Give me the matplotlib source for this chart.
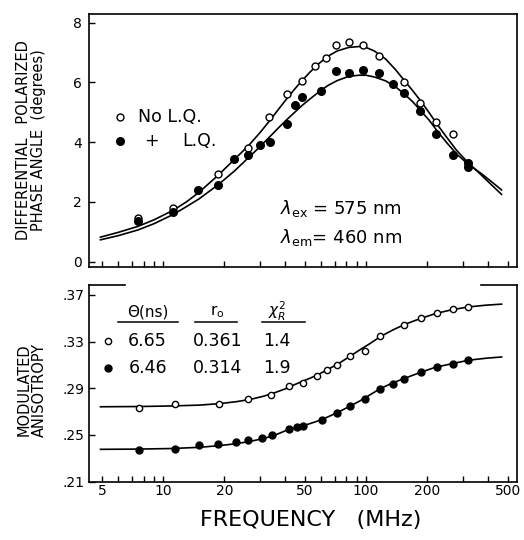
import matplotlib
matplotlib.use('Agg')
import matplotlib.pyplot as plt
from matplotlib.ticker import NullLocator

# upper panel: differential polarized phase angle (degrees)
freq_ang_open = [7.5, 11.2, 18.6, 26.1, 33.3, 40.6, 48.2, 56.1, 63.5, 71.2,
                 82.4, 97.0, 115.9, 153.7, 184.5, 221.4, 267]
ang_open = [1.45, 1.78, 2.93, 3.79, 4.83, 5.61, 6.03, 6.55, 6.82, 7.25,
            7.34, 7.25, 6.89, 6.00, 5.30, 4.66, 4.27]
freq_ang_fill = [7.5, 11.2, 14.9, 18.7, 22.4, 26.1, 30.0, 33.7, 40.9, 44.7,
                 48.2, 59.8, 71.2, 82.4, 97.0, 115.9, 135.3, 153.7, 184.5,
                 221.4, 267, 319, 319]
ang_fill = [1.35, 1.67, 2.40, 2.56, 3.42, 3.57, 3.90, 4.01, 4.61, 5.24,
            5.50, 5.71, 6.38, 6.32, 6.41, 6.30, 5.93, 5.66, 5.04,
            4.27, 3.57, 3.31, 3.16]

fit_freq = [4.9, 6, 7.5, 9, 11.2, 13, 15, 18.7, 22.4, 26.3, 30, 33.5, 37,
            40.6, 44.5, 48.2, 53, 59, 65, 72, 82, 92, 100, 110, 125, 140,
            155, 170, 185, 205, 225, 250, 280, 320, 370, 420, 466]
fit_ang_open = [0.82, 0.98, 1.18, 1.40, 1.72, 2.00, 2.32, 2.90, 3.42, 3.88,
                4.32, 4.72, 5.10, 5.45, 5.78, 6.05, 6.35, 6.65, 6.88, 7.05,
                7.17, 7.20, 7.17, 7.05, 6.78, 6.42, 6.05, 5.72, 5.40, 4.98,
                4.58, 4.16, 3.72, 3.30, 2.90, 2.54, 2.25]
fit_ang_fill = [0.73, 0.87, 1.06, 1.27, 1.58, 1.84, 2.10, 2.58, 3.03, 3.48,
                3.85, 4.18, 4.48, 4.75, 5.00, 5.22, 5.45, 5.70, 5.90, 6.06,
                6.20, 6.24, 6.24, 6.18, 6.05, 5.85, 5.60, 5.35, 5.07, 4.73,
                4.36, 3.98, 3.60, 3.25, 2.95, 2.65, 2.40]

# lower panel: modulated anisotropy
freq_r_open = [7.55, 11.4, 18.9, 26.3, 33.9, 41.8, 49.1, 57.2, 64.5, 72.2,
               83.4, 98.9, 117.2, 154.5, 186.7, 223, 267, 319]
r_open = [0.2732, 0.2767, 0.2767, 0.2809, 0.2846, 0.2917, 0.2946, 0.3002,
          0.3060, 0.3102, 0.3173, 0.3222, 0.3344, 0.3444, 0.3501, 0.3544,
          0.3578, 0.3595]
freq_r_fill = [7.6, 11.4, 15.0, 18.7, 22.8, 26.3, 30.6, 34.3, 41.8, 45.6,
               49.1, 60.5, 72.2, 83.4, 98.9, 117.2, 136.5, 154.5, 186.7,
               223, 267, 319]
r_fill = [0.2368, 0.2382, 0.2410, 0.2425, 0.2442, 0.2453, 0.2470, 0.2498,
          0.2547, 0.2567, 0.2575, 0.2627, 0.2690, 0.2746, 0.2809, 0.2897,
          0.2940, 0.2980, 0.3036, 0.3083, 0.3108, 0.3145]

fit_freq_r = [4.9, 7.5, 11, 15, 19, 23, 27, 31, 35, 40, 45, 50, 57, 65, 73,
              83, 93, 105, 117, 135, 155, 185, 220, 265, 320, 390, 466]
fit_r_open = [0.2741, 0.2743, 0.2748, 0.2755, 0.2768, 0.2785, 0.2805,
              0.2830, 0.2858, 0.2895, 0.2935, 0.2968, 0.3010, 0.3062,
              0.3110, 0.3172, 0.3228, 0.3285, 0.3340, 0.3398, 0.3447,
              0.3497, 0.3540, 0.3573, 0.3597, 0.3612, 0.3621]
fit_r_fill = [0.2376, 0.2378, 0.2383, 0.2393, 0.2408, 0.2425, 0.2445,
              0.2468, 0.2493, 0.2535, 0.2560, 0.2583, 0.2615, 0.2655,
              0.2695, 0.2745, 0.2790, 0.2845, 0.2895, 0.2945, 0.2985,
              0.3035, 0.3080, 0.3110, 0.3140, 0.3157, 0.3168]

freq_ticks = [5, 6, 7, 8, 9, 10, 20, 30, 40, 50, 60, 70, 80, 90, 100,
              200, 300, 400, 500]
freq_labels = ['5', '', '', '', '', '10', '20', '', '', '50', '', '', '', '',
               '100', '200', '', '', '500']
ang_ticks = [0, 2, 4, 6, 8]
r_ticks = [0.21, 0.25, 0.29, 0.33, 0.37]
r_labels = ['.21', '.25', '.29', '.33', '.37']

table_head = ['\u0398(ns)', r'r$_{\rm o}$', r'$\chi^2_R$']
table_open = ['6.65', '0.361', '1.4']
table_fill = ['6.46', '0.314', '1.9']

fig = plt.figure(figsize=(5.24, 5.40), dpi=100, facecolor='w')
ax1 = fig.add_axes([0.1698, 0.5061, 0.8168, 0.468])
ax2 = fig.add_axes([0.1698, 0.1083, 0.8168, 0.3639])

open_kw = dict(ls='none', marker='o', ms=5, mfc='white', mec='black', mew=1.0)
fill_kw = dict(ls='none', marker='o', ms=5.5, mfc='black', mec='black')

ax1.plot(fit_freq, fit_ang_open, color='black', lw=1.2)
ax1.plot(fit_freq, fit_ang_fill, color='black', lw=1.2)
ax1.plot(freq_ang_open, ang_open, **open_kw)
ax1.plot(freq_ang_fill, ang_fill, **fill_kw)

ax2.plot(fit_freq_r, fit_r_open, color='black', lw=1.2)
ax2.plot(fit_freq_r, fit_r_fill, color='black', lw=1.2)
ax2.plot(freq_r_open, r_open, **dict(open_kw, ms=4.5))
ax2.plot(freq_r_fill, r_fill, **dict(fill_kw, ms=5))

for ax in (ax1, ax2):
    ax.set_xscale('log')
    ax.set_xlim(4.3, 555)
    ax.set_xticks(freq_ticks)
    ax.set_xticklabels(freq_labels)
    ax.xaxis.set_minor_locator(NullLocator())
    ax.tick_params(which='both', direction='in', length=4, width=1,
                   labelsize=10, top=False, right=False)
    for s in ax.spines.values():
        s.set_linewidth(1.2)

ax1.set_ylim(-0.17, 8.29)
ax1.set_yticks(ang_ticks)
ax1.tick_params(axis='x', labelbottom=False)
ax1.tick_params(axis='y', pad=5)

ax2.set_ylim(0.2107, 0.3785)
ax2.set_yticks(r_ticks)
ax2.set_yticklabels(r_labels)
ax2.tick_params(axis='x', pad=2)
ax2.tick_params(axis='y', pad=3)
# broken top frame on the lower panel
ax2.spines['top'].set_visible(False)
ax2.plot([0, 0.084], [1, 1], transform=ax2.transAxes, color='black',
         lw=1.2, clip_on=False)
ax2.plot([0.917, 1], [1, 1], transform=ax2.transAxes, color='black',
         lw=1.2, clip_on=False)

# upper panel key and wavelengths
ax1.plot([0.072], [0.592], transform=ax1.transAxes, **open_kw)
ax1.plot([0.072], [0.497], transform=ax1.transAxes, **fill_kw)
ax1.text(0.114, 0.592, 'No L.Q.', transform=ax1.transAxes, fontsize=12.5,
         va='center', ha='left')
ax1.text(0.147, 0.497, '+', transform=ax1.transAxes, fontsize=12.5,
         va='center', ha='center')
ax1.text(0.217, 0.497, 'L.Q.', transform=ax1.transAxes, fontsize=12.5,
         va='center', ha='left')
ax1.text(0.589, 0.232, r'$\lambda_{\rm ex}$ = 575 nm', transform=ax1.transAxes,
         fontsize=13, va='center', ha='center')
ax1.text(0.589, 0.114, r'$\lambda_{\rm em}$= 460 nm', transform=ax1.transAxes,
         fontsize=13, va='center', ha='center')

# lower panel table
col_x = [0.137, 0.300, 0.440]
rule_x = [(0.068, 0.208), (0.248, 0.346), (0.404, 0.505)]
for x, (x0, x1), h in zip(col_x, rule_x, table_head):
    ax2.text(x, 0.864, h, transform=ax2.transAxes, fontsize=11,
             ha='center', va='center')
    ax2.plot([x0, x1], [0.81, 0.81], transform=ax2.transAxes,
             color='black', lw=1.1)
ax2.plot([0.044], [0.715], transform=ax2.transAxes, **dict(open_kw, ms=4.5))
ax2.plot([0.044], [0.576], transform=ax2.transAxes, **dict(fill_kw, ms=5))
for x, a, b in zip(col_x, table_open, table_fill):
    ax2.text(x, 0.715, a, transform=ax2.transAxes, fontsize=12.5,
             ha='center', va='center')
    ax2.text(x, 0.576, b, transform=ax2.transAxes, fontsize=12.5,
             ha='center', va='center')

fig.text(0.060, 1 - 140 / 540, 'DIFFERENTIAL   POLARIZED\nPHASE ANGLE  (degrees)',
         rotation=90, ha='center', va='center', fontsize=10.5,
         linespacing=1.0, multialignment='center')
fig.text(0.060, 1 - 390 / 540, 'MODULATED\nANISOTROPY', rotation=90,
         ha='center', va='center', fontsize=10.5, linespacing=1.0,
         multialignment='center')
fig.text(311 / 524, 1 - 520 / 540, 'FREQUENCY   (MHz)', ha='center',
         va='center', fontsize=16)

plt.savefig('out.png', dpi=100, facecolor='w')
